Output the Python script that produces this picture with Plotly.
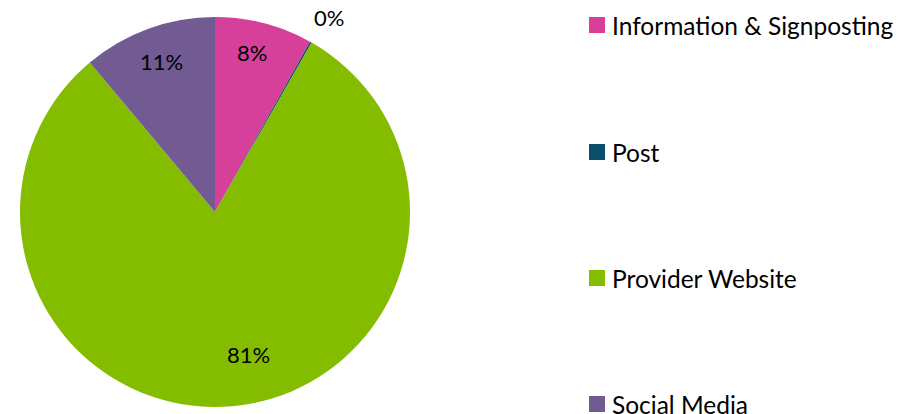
import math
import plotly.graph_objects as go

labels = ["Information & Signposting", "Post", "Provider Website", "Social Media"]
values = [8.1, 0.15, 80.65, 11.1]
colors = ["#D6409A", "#0B4F6C", "#84BD00", "#725A93"]

# label placement style (radius fraction, angle nudge in degrees)
label_radius = [0.84, 1.155, 0.75, 0.82]
label_nudge = [-1.5, 1.0, -8.0, 0.5]

W, H = 912, 414
CX, CY, R = 215, 212, 195
FONT = "Lato, 'Open Sans', sans-serif"

fig = go.Figure()
fig.add_trace(go.Pie(
    labels=labels, values=values, sort=False, direction="clockwise", rotation=0,
    marker=dict(colors=colors, line=dict(width=0)),
    textinfo="none",
    domain=dict(x=[(CX - R) / W, (CX + R) / W], y=[1 - (CY + R) / H, 1 - (CY - R) / H]),
    showlegend=False, hoverinfo="label+percent",
))

total = sum(values)
cum = 0.0
annotations = []
for v, rf, nd in zip(values, label_radius, label_nudge):
    mid = (cum + v / 2) / total * 360 + nd
    cum += v
    a = math.radians(mid)
    px = CX + rf * R * math.sin(a)
    py = CY - rf * R * math.cos(a)
    annotations.append(dict(
        x=px / W, y=1 - py / H, xref="paper", yref="paper",
        text=f"{round(v / total * 100)}%", showarrow=False,
        xanchor="center", yanchor="middle",
        font=dict(family=FONT, size=22, color="#000000"),
    ))

# legend drawn as squares + text
legend_rows = [25, 152, 278, 404]
shapes = []
for lab, col, ry in zip(labels, colors, legend_rows):
    shapes.append(dict(type="rect", xref="paper", yref="paper",
                       x0=589 / W, x1=605 / W, y0=1 - (ry + 8) / H, y1=1 - (ry - 8) / H,
                       fillcolor=col, line=dict(width=0)))
    annotations.append(dict(
        x=610 / W, y=1 - ry / H, xref="paper", yref="paper", text=lab,
        showarrow=False, xanchor="left", yanchor="middle",
        font=dict(family=FONT, size=24.5, color="#000000"),
    ))

fig.update_layout(
    width=W, height=H, margin=dict(l=0, r=0, t=0, b=0),
    paper_bgcolor="white", plot_bgcolor="white",
    annotations=annotations, shapes=shapes,
)
fig.write_html("out.html", config={"displayModeBar": False},
               post_script="document.body.style.margin='0px';document.body.style.overflow='hidden';")
